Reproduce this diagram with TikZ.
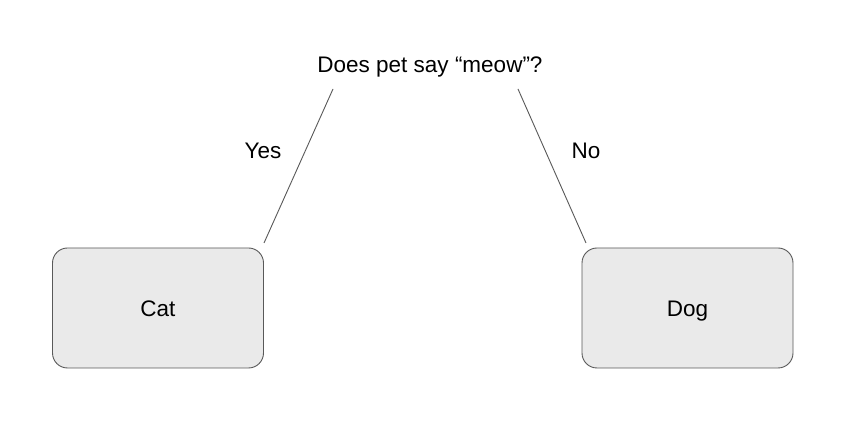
\documentclass[tikz,border=0pt]{standalone}
\usepackage{fontspec}
\setmainfont{Liberation Sans}
\definecolor{boxfill}{HTML}{EAEAEA}
\definecolor{linegray}{HTML}{595959}
\begin{document}
\begin{tikzpicture}[x=1pt,y=1pt,
  txt/.style={font=\fontsize{22.5}{27}\selectfont},
  leaf/.style={draw=linegray,fill=boxfill,rounded corners=15pt,minimum width=211pt,minimum height=120pt,line width=0.9pt,inner sep=0pt},
  lbl/.style={txt,inner sep=0pt,text height=0.716em,text depth=0pt},
  edge/.style={draw=linegray,line width=0.9pt}]
\useasboundingbox (0,0) rectangle (846,446);
\fill[white] (0,0) rectangle (846,446);
\node[lbl] (q) at (430,377) {Does pet say “meow”?};
\node[leaf] (cat) at (158,138) {};
\node[leaf] (dog) at (687.5,138) {};
\node[lbl] (catt) at ([yshift=-5pt]cat.center) {Cat};
\node[lbl] (dogt) at ([yshift=-5pt]dog.center) {Dog};
\coordinate (l1) at (333,357);
\coordinate (l2) at (264,203);
\coordinate (r1) at (518,357);
\coordinate (r2) at (586,203);
\draw[edge] (l1) -- (l2);
\draw[edge] (r1) -- (r2);
\node[lbl] (yes) at (263,291) {Yes};
\node[lbl] (no) at (586,291) {No};
\end{tikzpicture}
\end{document}
